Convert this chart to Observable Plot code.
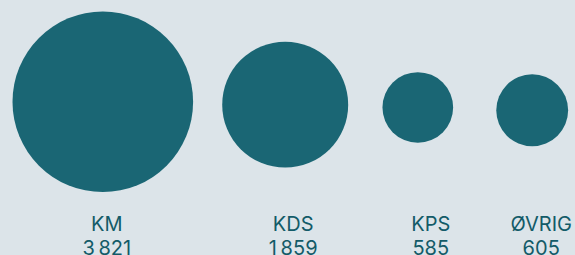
<!DOCTYPE html>
<html>
<head>
<meta charset="utf-8">
<script src="https://cdn.jsdelivr.net/npm/d3@7"></script>
<script src="https://cdn.jsdelivr.net/npm/@observablehq/plot@0.6"></script>
<style>
  html, body { margin: 0; padding: 0; background: #dce4e9; }
  #chart svg { display: block; }
</style>
</head>
<body>
<div id="chart"></div>
<script>
const categories = ["KM", "KDS", "KPS", "ØVRIG"];
const values = [3821, 1859, 585, 605];

const fmt = d3.formatLocale({decimal: ",", thousands: "\u2009", grouping: [3], currency: ["", " kr"]}).format(",d");
const data = categories.map((c, i) => ({cat: c, value: values[i], idx: i}));

// layout (not data)
const centers = [102.3, 284.7, 417.3, 531.7];
const labelNudge = [4, 8, 13, 9];
const teal = "#1a6674";
const textColor = "#135b68";

const plot = Plot.plot({
  width: 575,
  height: 255,
  margin: 0,
  style: {background: "#dce4e9", fontFamily: "Inter, sans-serif"},
  x: {type: "linear", domain: [0, 1, 2, 3], range: centers, axis: null},
  y: {domain: [0, 3], range: [101.3, 109.8], axis: null},
  r: {type: "sqrt", domain: [0, 3821], range: [0, 90.3]},
  marks: [
    Plot.dot(data, {x: "idx", y: "idx", r: "value", fill: teal, stroke: "none"}),
    ...data.map((d, i) => Plot.text([d], {
      x: "idx",
      frameAnchor: "bottom",
      lineAnchor: "bottom",
      lineHeight: 1.2,
      dy: -1,
      dx: labelNudge[i],
      text: (e) => `${e.cat}\n${fmt(e.value)}`,
      fill: textColor,
      fontSize: 20,
      textAnchor: "middle"
    }))
  ]
});
document.getElementById("chart").appendChild(plot);
</script>
</body>
</html>
